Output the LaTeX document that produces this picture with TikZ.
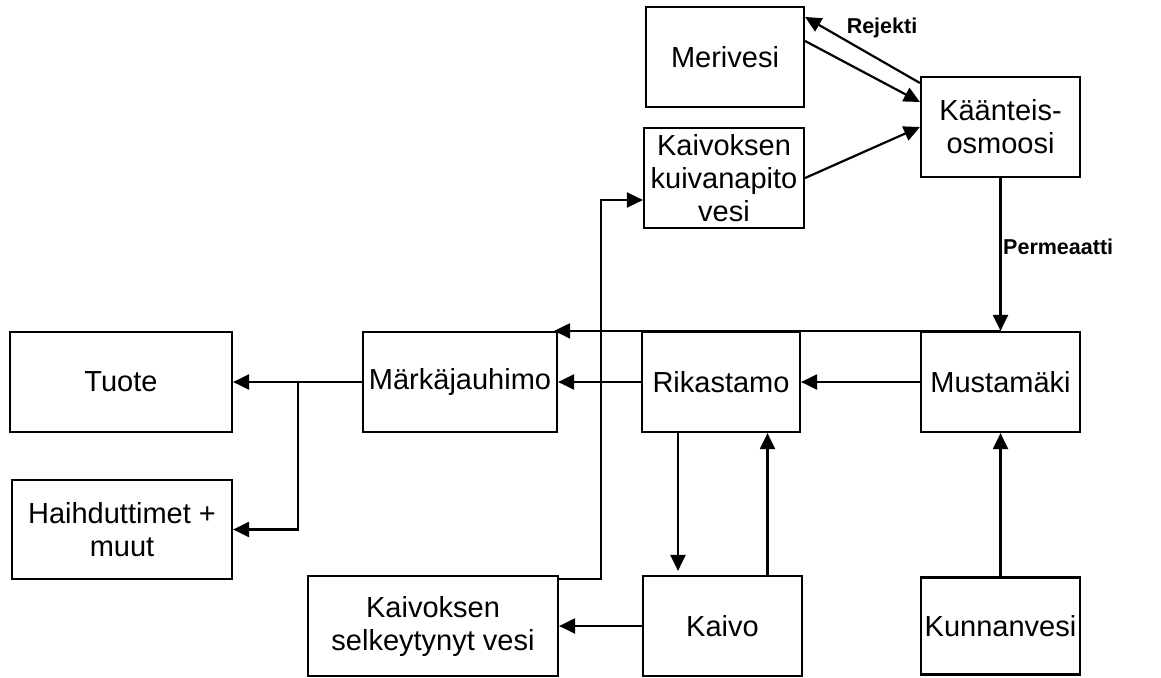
\documentclass[tikz,border=0pt]{standalone}
\usepackage{fontspec}
\setmainfont{Liberation Sans}
\usetikzlibrary{arrows.meta,calc}
\begin{document}
\begin{tikzpicture}[x=1pt,y=-1pt,
  box/.style={draw,line width=2.2pt,rectangle,inner sep=0pt,align=center,
    font=\fontsize{29}{33}\selectfont},
  lbl/.style={font=\fontsize{21.5}{25}\selectfont\bfseries,inner sep=0pt},
  arr/.style={line width=2.2pt,-{Triangle[length=16pt,width=15pt]}}]
\useasboundingbox (0,0) rectangle (1161,677);
% boxes (centers, sizes in px)
\node[box,minimum width=158pt,minimum height=100pt] (mer) at (725,57) {Merivesi};
\node[box,minimum width=160pt,minimum height=100pt] (kv) at (724,178) {Kaivoksen\\kuivanapito\\vesi};
\node[box,minimum width=159pt,minimum height=100pt] (ko) at (1000.5,127) {Käänteis-\\osmoosi};
\node[box,minimum width=222pt,minimum height=100pt] (tu) at (121,382) {Tuote};
\node[box,minimum width=220pt,minimum height=99pt] (hd) at (122,529.5) {Haihduttimet +\\muut};
\node[box,minimum width=194pt,minimum height=100pt] (mj) at (460,382) {Märkäjauhimo};
\node[box,minimum width=158pt,minimum height=100pt] (rk) at (721,382) {Rikastamo};
\node[box,minimum width=159pt,minimum height=100pt] (mu) at (1000.5,382) {Mustamäki};
\node[box,minimum width=250pt,minimum height=100pt] (sk) at (433,626) {Kaivoksen\\selkeytynyt vesi};
\node[box,minimum width=159pt,minimum height=100pt] (ka) at (722.5,626) {Kaivo};
\node[box,minimum width=159pt,minimum height=97pt] (kn) at (1000.5,626) {Kunnanvesi};
% labels
\node[lbl] (rej) at (882,28) {Rejekti};
\node[lbl,anchor=west] (perm) at (1003,247) {Permeaatti};
% connectors
\draw[arr] ([yshift=16pt]mer.east) -- ([yshift=25pt]ko.west);
\draw[arr] ([yshift=44pt]ko.west) -- ([yshift=40pt]mer.east);
\draw[arr] (kv.east) -- (ko.west);
\draw[arr] (ko.south) -- (mu.north);
\draw[arr] (mu.north) -- ([xshift=-4pt]mj.north east);
\draw[arr] (mu.west) -- (rk.east);
\draw[arr] (rk.west) -- (mj.east);
\coordinate (br) at (298,382);
\draw[arr] (mj.west) -- (tu.east);
\draw[arr] (br) |- (hd.east);
\coordinate (d1) at ([xshift=-43pt]rk.south);
\draw[arr,shorten >=4pt] (d1) -- (d1 |- ka.north);
\coordinate (u1) at ([xshift=45pt]ka.north);
\draw[arr] (u1) -- (u1 |- rk.south);
\draw[arr] (kn.north) -- (mu.south);
\draw[arr] (ka.west) -- (sk.east);
\draw[arr] ([yshift=-4pt]sk.north east) -- ++(42,0) |- ([yshift=-22pt]kv.west);
\end{tikzpicture}
\end{document}
